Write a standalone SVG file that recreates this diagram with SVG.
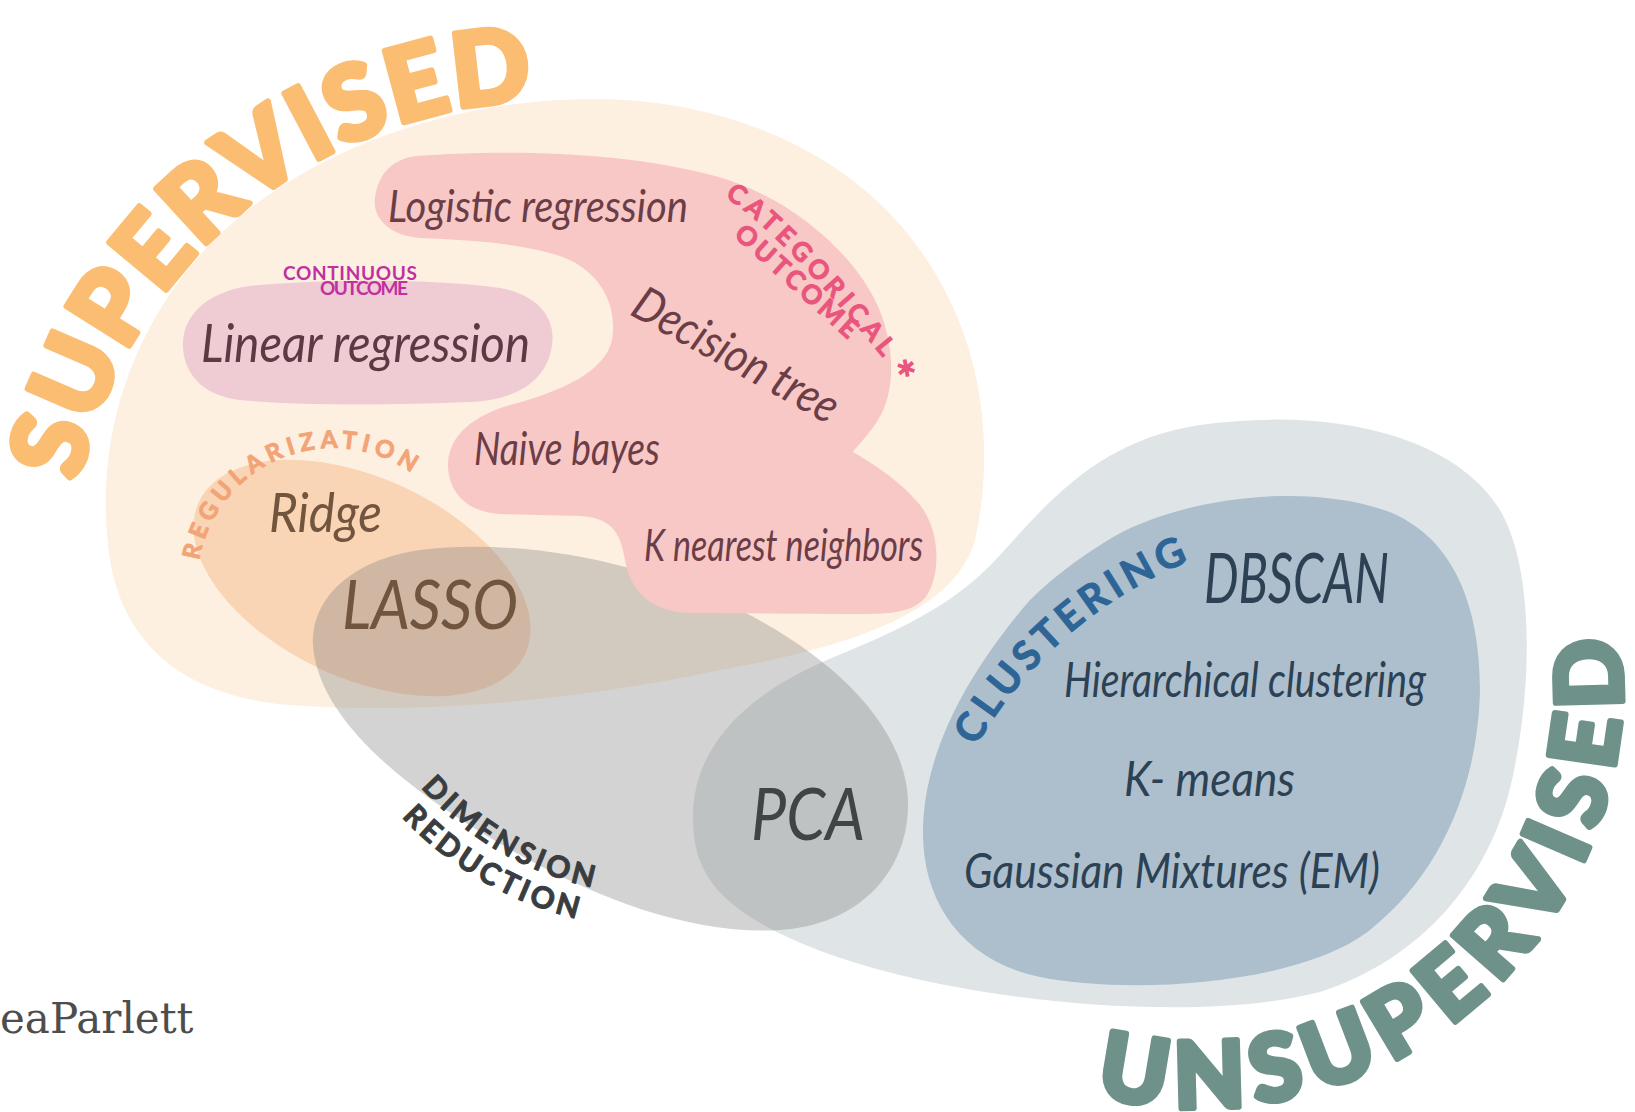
<svg xmlns="http://www.w3.org/2000/svg" width="1635" height="1112" viewBox="0 0 1635 1112">
<defs>
  <path id="pSup" d="M 78.5,481.8 A 482 482 0 0 1 533.2,100.3"/>
  <path id="pUns" d="M 1095.8,1094.9 A 423 423 0 0 0 1619.4,639"/>
  <path id="pClu" d="M 976,746.5 A 433 433 0 0 1 1188.8,561.5"/>
  <path id="pReg" d="M 199.1,560.4 A 136 136 0 0 1 411,472.6"/>
  <path id="pDim" d="M 420.7,787.3 A 315 315 0 0 0 592,887.2"/>
  <path id="pRed" d="M 401.7,817 A 349 349 0 0 0 576.1,918.5"/>
  <path id="pCat" d="M 725,197 Q 779,231 885,360"/>
</defs>
<style>
  .script { font-family: Lato, "Open Sans", sans-serif; font-style: italic; }
  .label { font-family: Lato, "DejaVu Sans", sans-serif; font-weight: bold; stroke-linejoin: round; }
  .big { font-family: Lato, "DejaVu Sans", sans-serif; font-weight: 900; stroke-linejoin: round; stroke-width: 6; }
  .pinkTxt { fill: #6b3d46; }
  .brownTxt { fill: #72553f; }
  .navyTxt { fill: #2c4154; }
</style>
<rect width="1635" height="1112" fill="#ffffff"/>

<g id="supervised">
  <path d="M 584,99 C 720,96 850,150 920,250 C 985,340 995,450 975,540 C 955,610 860,645 720,670 C 580,700 420,715 290,705 C 190,697 125,650 110,560 C 95,460 120,360 180,280 C 260,170 420,102 584,99 Z" fill="#fdf0e1"/>
</g>
<g id="regularization">
  <ellipse cx="362" cy="578" rx="180" ry="100" transform="rotate(25 362 578)" fill="#f9d5b5"/>
</g>
<g id="unsupervised">
  <path d="M 693,824 C 690,760 730,700 834,657 C 910,626 960,600 1000,555 C 1050,500 1100,440 1200,425 C 1320,408 1450,430 1500,510 C 1535,570 1532,690 1512,780 C 1490,880 1420,960 1320,992 C 1220,1018 1060,1008 940,984 C 830,962 740,925 710,880 C 698,862 694,845 693,824 Z" fill="#dfe5e6"/>
</g>
<g id="clustering">
  <path d="M 1105,542 C 1170,500 1300,480 1387,511 C 1450,535 1480,600 1480,690 C 1478,780 1445,870 1370,930 C 1300,985 1130,995 1040,977 C 960,960 922,900 923,830 C 924,750 970,670 1030,600 C 1055,575 1080,558 1105,542 Z" fill="#adbfcd"/>
</g>
<g id="dimension-reduction">
  <path d="M 313,646 C 310,600 350,560 420,550 C 520,538 640,560 740,610 C 840,660 905,730 908,800 C 910,870 860,925 780,930 C 700,935 610,905 520,855 C 430,805 320,730 313,646 Z" fill="#808080" fill-opacity="0.35"/>
</g>
<g id="categorical">
  <path d="M 417,156 C 500,150 620,150 719,177 C 790,198 850,250 875,300 C 895,340 897,390 878,420 C 868,436 856,447 853,452 C 870,462 900,480 920,505 C 940,530 942,575 925,598 C 910,615 880,614 850,614 L 690,613 C 650,612 630,590 625,560 C 620,530 610,518 580,516 L 500,514 C 465,512 448,490 448,465 C 448,435 475,415 510,405 C 560,392 605,372 612,340 C 618,305 600,270 560,256 C 520,243 470,240 420,238 C 390,236 372,218 375,198 C 378,172 395,158 417,156 Z" fill="#f8c8c6"/>
</g>
<g id="continuous">
  <path d="M 260,285 C 340,278 450,280 500,288 C 540,295 556,320 552,345 C 548,378 520,400 470,402 C 380,406 290,405 240,400 C 200,396 182,370 183,343 C 184,310 215,288 260,285 Z" fill="#efcbd4"/>
</g>

<g id="labels">
  <text class="big" font-size="102" fill="#fbbd72" stroke="#fbbd72"><textPath href="#pSup" textLength="639" lengthAdjust="spacing">SUPERVISED</textPath></text>
  <text class="big" font-size="92" fill="#6e918a" stroke="#6e918a"><textPath href="#pUns" textLength="815" lengthAdjust="spacing">UNSUPERVISED</textPath></text>
  <text class="label" font-size="40" font-weight="600" fill="#2e6597" stroke="#2e6597" stroke-width="1"><textPath href="#pClu" textLength="287" lengthAdjust="spacing">CLUSTERING</textPath></text>
  <text class="label" font-size="24" fill="#f3a477" stroke="#f3a477" stroke-width="1"><textPath href="#pReg" textLength="273" lengthAdjust="spacing">REGULARIZATION</textPath></text>
  <text class="label" font-size="30" fill="#3a3d40" stroke="#3a3d40" stroke-width="1"><textPath href="#pDim" textLength="202" lengthAdjust="spacing">DIMENSION</textPath></text>
  <text class="label" font-size="30" fill="#3a3d40" stroke="#3a3d40" stroke-width="1"><textPath href="#pRed" textLength="205" lengthAdjust="spacing">REDUCTION</textPath></text>
  <text class="label" font-size="26" fill="#e9557c" stroke="#e9557c" stroke-width="1"><textPath href="#pCat" textLength="226" lengthAdjust="spacing">CATEGORICAL</textPath></text>
  <text class="label" font-size="26" fill="#e9557c" stroke="#e9557c" stroke-width="1" transform="translate(733,236) rotate(42)" textLength="155" lengthAdjust="spacing">OUTCOME</text>
  <text font-family="DejaVu Sans, sans-serif" font-size="24" font-weight="bold" fill="#e9557c" transform="translate(893,366) rotate(50)">✱</text>
  <text class="label" font-size="19" fill="#c22f9f" x="283" y="280" textLength="134" lengthAdjust="spacing">CONTINUOUS</text>
  <text class="label" font-size="19" fill="#c22f9f" x="320" y="295" textLength="88" lengthAdjust="spacing">OUTCOME</text>
</g>

<g id="methods">
  <text class="script pinkTxt" font-size="44" x="388" y="222" textLength="300" lengthAdjust="spacingAndGlyphs">Logistic regression</text>
  <text class="script" fill="#5b3a44" font-size="53" x="201" y="362" textLength="329" lengthAdjust="spacingAndGlyphs">Linear regression</text>
  <text class="script pinkTxt" font-size="48" text-anchor="middle" transform="translate(735,357) rotate(29)" y="14" textLength="228" lengthAdjust="spacingAndGlyphs">Decision tree</text>
  <text class="script pinkTxt" font-size="46" x="474" y="465" textLength="186" lengthAdjust="spacingAndGlyphs">Naive bayes</text>
  <text class="script pinkTxt" font-size="45" x="644" y="561" textLength="279" lengthAdjust="spacingAndGlyphs">K nearest neighbors</text>
  <text class="script brownTxt" font-size="54" x="269" y="532" textLength="113" lengthAdjust="spacingAndGlyphs">Ridge</text>
  <text class="script brownTxt" font-size="68" x="342" y="629" textLength="176" lengthAdjust="spacingAndGlyphs">LASSO</text>
  <text class="script" fill="#3f4446" font-size="72" x="751" y="840" textLength="114" lengthAdjust="spacingAndGlyphs">PCA</text>
  <text class="script navyTxt" font-size="70" x="1204" y="603" textLength="185" lengthAdjust="spacingAndGlyphs">DBSCAN</text>
  <text class="script navyTxt" font-size="48" x="1064" y="697" textLength="362" lengthAdjust="spacingAndGlyphs">Hierarchical clustering</text>
  <text class="script navyTxt" font-size="48" x="1124" y="796" textLength="171" lengthAdjust="spacingAndGlyphs">K- means</text>
  <text class="script navyTxt" font-size="48" x="964" y="888" textLength="416" lengthAdjust="spacingAndGlyphs">Gaussian Mixtures (EM)</text>
</g>

<text font-family="DejaVu Serif, serif" font-size="42" fill="#4d4d4d" x="0" y="1033">eaParlett</text>
</svg>
